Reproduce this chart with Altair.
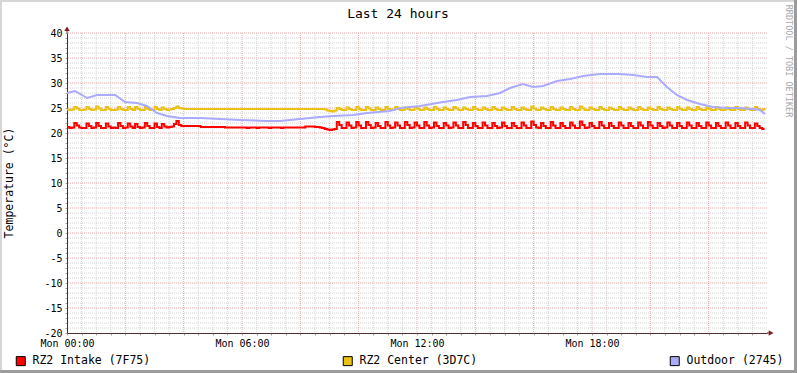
import altair as alt
import pandas as pd
import numpy as np

# ---------------- data ----------------
STEP_MIN = 5  # sampling interval of the two rack sensors, minutes

intake = [
    21.2, 21.0, 21.1, 22.0, 21.5, 21.1, 21.0, 21.0, 21.9, 21.4, 21.0, 21.1,
    22.0, 21.4, 21.0, 21.0, 21.9, 21.3, 21.0, 21.1, 21.0, 22.0, 21.4, 21.0,
    21.1, 21.9, 21.3, 21.0, 21.8, 21.2, 21.0, 21.1, 22.0, 21.4, 21.0, 21.0,
    21.9, 21.2, 21.0, 21.8, 21.3, 21.1, 21.2, 21.3, 21.8, 22.4, 21.6, 21.4,
    21.4, 21.4, 21.4, 21.4, 21.4, 21.4, 21.4, 21.2, 21.2, 21.2, 21.2, 21.2,
    21.2, 21.2, 21.2, 21.2, 21.2, 21.1, 21.1, 21.1, 21.1, 21.1, 21.1, 21.1,
    21.1, 21.1, 21.0, 21.1, 21.1, 21.1, 21.0, 21.1, 21.1, 21.1, 21.1, 21.0,
    21.1, 21.1, 21.1, 21.1, 21.0, 21.1, 21.1, 21.1, 21.1, 21.1, 21.1, 21.1,
    21.1, 21.1, 21.3, 21.3, 21.3, 21.3, 21.2, 21.2, 21.1, 21.0, 20.8, 20.7,
    20.6, 20.7, 20.8, 22.2, 21.6, 21.0, 21.0, 22.1, 21.5, 21.0, 21.1, 22.2,
    21.5, 21.0, 21.0, 22.2, 21.6, 21.0, 21.1, 22.0, 21.4, 21.0, 21.0, 22.2,
    21.5, 21.0, 21.1, 22.1, 21.5, 21.0, 21.0, 22.2, 21.6, 21.0, 21.1, 22.1,
    21.5, 21.0, 21.0, 22.2, 21.5, 21.0, 21.1, 22.1, 21.4, 21.0, 21.0, 22.0,
    21.5, 21.0, 21.1, 22.1, 21.5, 21.0, 21.0, 22.2, 21.6, 21.0, 21.0, 22.0,
    21.4, 21.0, 21.0, 22.1, 21.5, 21.0, 21.0, 22.0, 21.4, 21.0, 21.1, 22.1,
    21.4, 21.0, 21.0, 22.0, 21.4, 21.0, 21.0, 22.1, 21.5, 21.0, 21.0, 22.3,
    21.6, 21.1, 21.0, 22.0, 21.4, 21.0, 21.0, 22.2, 21.5, 21.0, 21.0, 22.0,
    21.4, 21.0, 21.0, 22.1, 21.5, 21.0, 21.0, 22.3, 21.6, 21.0, 21.1, 22.0,
    21.4, 21.0, 21.0, 22.2, 21.5, 21.0, 21.0, 22.0, 21.4, 21.0, 21.0, 22.1,
    21.5, 21.0, 21.0, 22.0, 21.4, 21.0, 21.0, 22.1, 21.5, 21.0, 21.0, 22.2,
    21.5, 21.0, 21.0, 22.0, 21.4, 21.0, 21.1, 22.1, 21.5, 21.0, 21.0, 22.0,
    21.4, 21.0, 21.0, 22.1, 21.5, 21.0, 21.0, 22.0, 21.4, 21.0, 21.0, 22.1,
    21.5, 21.0, 21.0, 22.0, 21.4, 21.0, 21.0, 22.1, 21.5, 21.0, 21.0, 22.0,
    21.4, 21.0, 21.0, 22.1, 21.5, 21.0, 21.0, 21.9, 21.4, 21.0, 20.8, 20.8,
]

center = [
    24.7, 24.6, 24.7, 25.2, 24.9, 24.6, 24.6, 24.7, 25.2, 24.8, 24.6, 24.7,
    25.3, 24.9, 24.6, 24.6, 25.2, 24.8, 24.6, 24.6, 24.7, 25.2, 24.8, 24.6,
    24.6, 25.2, 24.8, 24.6, 25.2, 24.8, 24.6, 24.6, 25.2, 24.8, 24.6, 24.6,
    25.2, 24.8, 24.6, 25.1, 24.8, 24.6, 24.7, 24.8, 25.0, 25.3, 25.0, 24.9,
    24.8, 24.8, 24.8, 24.8, 24.8, 24.8, 24.8, 24.8, 24.8, 24.8, 24.8, 24.8,
    24.8, 24.8, 24.8, 24.8, 24.8, 24.8, 24.8, 24.8, 24.8, 24.8, 24.8, 24.8,
    24.8, 24.8, 24.8, 24.8, 24.8, 24.8, 24.8, 24.8, 24.8, 24.8, 24.8, 24.8,
    24.8, 24.8, 24.8, 24.8, 24.8, 24.8, 24.8, 24.8, 24.8, 24.8, 24.8, 24.8,
    24.8, 24.8, 24.8, 24.8, 24.8, 24.8, 24.8, 24.8, 24.8, 24.8, 24.7, 24.5,
    24.4, 24.3, 24.5, 25.0, 24.8, 24.6, 24.6, 25.1, 24.8, 24.6, 24.6, 25.2,
    24.8, 24.6, 24.6, 25.2, 24.9, 24.6, 24.6, 25.1, 24.8, 24.6, 24.6, 25.2,
    24.8, 24.6, 24.7, 25.2, 24.8, 24.6, 24.6, 25.1, 24.8, 24.6, 24.6, 25.2,
    24.9, 24.6, 24.6, 25.1, 24.8, 24.6, 24.6, 25.2, 24.8, 24.6, 24.6, 25.1,
    24.8, 24.6, 24.6, 25.2, 24.9, 24.6, 24.6, 25.1, 24.8, 24.6, 24.6, 25.2,
    24.8, 24.6, 24.6, 25.1, 24.8, 24.6, 24.6, 25.2, 24.8, 24.6, 24.6, 25.1,
    24.8, 24.6, 24.6, 25.2, 24.8, 24.6, 24.6, 25.1, 24.8, 24.6, 24.6, 25.3,
    24.9, 24.6, 24.6, 25.1, 24.8, 24.6, 24.6, 25.2, 24.8, 24.6, 24.6, 25.1,
    24.8, 24.6, 24.6, 25.2, 24.8, 24.6, 24.6, 25.3, 24.9, 24.6, 24.6, 25.1,
    24.8, 24.6, 24.6, 25.2, 24.8, 24.6, 24.6, 25.1, 24.8, 24.6, 24.6, 25.2,
    24.8, 24.6, 24.6, 25.1, 24.8, 24.6, 24.6, 25.2, 24.8, 24.6, 24.6, 25.1,
    24.8, 24.6, 24.6, 25.2, 24.8, 24.6, 24.6, 25.1, 24.8, 24.6, 24.6, 25.2,
    24.8, 24.6, 24.6, 25.1, 24.8, 24.6, 24.6, 25.2, 24.8, 24.6, 24.6, 25.1,
    24.8, 24.6, 24.6, 25.2, 24.8, 24.6, 24.6, 25.1, 24.8, 24.6, 24.6, 25.2,
    24.8, 24.6, 24.6, 25.1, 24.8, 24.6, 24.6, 25.2, 24.8, 24.6, 24.7, 25.0,
]

outdoor_hours = [
    0.00, 0.27, 0.69, 1.03, 1.65, 1.99, 2.40, 2.74, 3.09, 3.43, 3.87, 4.56,
    5.25, 5.93, 6.86, 7.30, 7.99, 8.67, 9.12, 9.81, 10.29, 11.07, 11.42, 12.10,
    12.89, 13.37, 13.82, 14.40, 14.85, 15.19, 15.63, 15.98, 16.32, 16.80, 17.25,
    17.69, 18.27, 18.96, 19.41, 19.89, 20.23, 20.57, 20.91, 21.26, 21.70, 22.15,
    22.63, 23.07, 23.52, 23.76, 23.93,
]
outdoor = [
    28.0, 28.4, 27.0, 27.6, 27.6, 26.2, 26.0, 25.4, 24.0, 23.4, 23.0, 23.0,
    22.8, 22.6, 22.4, 22.4, 22.8, 23.2, 23.4, 23.6, 24.0, 24.4, 25.0, 25.4,
    26.2, 26.6, 27.2, 27.4, 28.0, 29.0, 29.8, 29.2, 29.4, 30.4, 30.8,
    31.4, 31.8, 31.8, 31.6, 31.2, 31.2, 29.2, 27.6, 26.6, 25.8, 25.2,
    25.0, 25.0, 24.8, 24.6, 23.8,
]

series_names = ["RZ2 Intake (7F75)", "RZ2 Center (3D7C)", "Outdoor (2745)"]
series_colors = ["#FF0000", "#EAC117", "#AAAAFF"]
series_interp = ["step-after", "step-after", "linear"]

x_tick_hours = [0, 6, 12, 18]
x_tick_labels = ["Mon 00:00", "Mon 06:00", "Mon 12:00", "Mon 18:00"]

title_text = "Last 24 hours"
y_title_text = "Temperature (°C)"
watermark_text = "RRDTOOL / TOBI OETIKER"

# ---------------- tables ----------------
hours = [i * STEP_MIN / 60.0 for i in range(len(intake))]
df = pd.concat([
    pd.DataFrame({"h": hours, "temp": intake, "series": series_names[0]}),
    pd.DataFrame({"h": hours, "temp": center, "series": series_names[1]}),
    pd.DataFrame({"h": outdoor_hours, "temp": outdoor, "series": series_names[2]}),
], ignore_index=True)

minor_x = [float(v) for v in np.arange(0.5, 24.0, 0.5) if v % 2 != 0]
major_x = list(range(2, 24, 2))
minor_y = [v for v in range(-19, 41) if v % 5 != 0]
major_y = list(range(-15, 41, 5))

FONT = "DejaVu Sans Mono"
W, H = 700, 300
PAD_L, PAD_T = 67, 33
AXIS_COLOR = "#4a3030"

xs = alt.Scale(domain=[0, 24], nice=False, zero=False)
ys = alt.Scale(domain=[-20, 40], nice=False, zero=False)
color_scale = alt.Scale(domain=series_names, range=series_colors)

label_expr = "".join(
    f"datum.value == {h} ? '{l}' : " for h, l in zip(x_tick_hours, x_tick_labels)
) + "''"

x_axis = alt.Axis(
    values=[v / 2 for v in range(0, 48)], labelExpr=label_expr,
    labelFont=FONT, labelFontSize=10, labelColor="black",
    labelFlush=False, labelOverlap=False, labelPadding=3,
    tickSize=2, tickColor="#b0a0a0", grid=False,
    domainColor=AXIS_COLOR, domainWidth=1, title=None,
)
y_axis = alt.Axis(
    values=list(range(-20, 41)),
    labelExpr="datum.value % 5 == 0 ? datum.value : ''",
    labelFont=FONT, labelFontSize=10, labelColor="black",
    labelOverlap=False, labelPadding=3, labelFlush=False,
    tickSize=2, tickColor="#b0a0a0", grid=False,
    domainColor=AXIS_COLOR, domainWidth=1, title=None,
)

def X(field):
    return alt.X(field, scale=xs, axis=x_axis, title=None)

def Y(field):
    return alt.Y(field, scale=ys, axis=y_axis, title=None)

# ---------------- grid ----------------
grid_minor_x = alt.Chart(pd.DataFrame({"g": minor_x})).mark_rule(
    color="#d2d2d2", strokeDash=[1, 1], strokeWidth=1
).encode(x=X("g:Q"))
grid_major_x = alt.Chart(pd.DataFrame({"g": major_x})).mark_rule(
    color="#e6a8a8", strokeDash=[1, 1], strokeWidth=1
).encode(x=X("g:Q"))
grid_minor_y = alt.Chart(pd.DataFrame({"g": minor_y})).mark_rule(
    color="#d2d2d2", strokeDash=[1, 1], strokeWidth=1
).encode(y=Y("g:Q"))
grid_major_y = alt.Chart(pd.DataFrame({"g": major_y})).mark_rule(
    color="#e6a8a8", strokeDash=[1, 1], strokeWidth=1
).encode(y=Y("g:Q"))

# ---------------- lines (one layer per series, drawn in RRD order) ----------------
lines = [
    alt.Chart(df).transform_filter(alt.datum.series == s)
    .mark_line(strokeWidth=2, interpolate=ip, color=c)
    .encode(x=X("h:Q"), y=Y("temp:Q"))
    for s, c, ip in zip(series_names, series_colors, series_interp)
]

# ---------------- legend (invisible squares drive the real legend) ----------------
legend_layer = alt.Chart(pd.DataFrame({"series": series_names})).mark_point(
    shape="square", filled=True, opacity=0, size=1
).encode(
    fill=alt.Fill(
        "series:N", scale=color_scale,
        legend=alt.Legend(
            title=None, orient="none", legendX=15 - PAD_L, legendY=322,
            direction="horizontal", symbolType="square", symbolSize=81,
            symbolStrokeColor="black", symbolStrokeWidth=1, symbolOpacity=1,
            labelFont=FONT, labelFontSize=11.5, labelColor="black",
            labelOffset=6, columnPadding=190, gridAlign="all",
            padding=0, labelLimit=300,
        ),
    )
)

# ---------------- axis extensions / arrows ----------------
arrow_color = "#8b1a1a"
x_ext = alt.Chart(pd.DataFrame({"a": [24.0], "b": [24.12], "y": [-20]})).mark_rule(
    color=AXIS_COLOR, strokeWidth=1
).encode(x=X("a:Q"), x2="b:Q", y=Y("y:Q"))
y_ext = alt.Chart(pd.DataFrame({"x": [0], "a": [40.0], "b": [40.6]})).mark_rule(
    color=AXIS_COLOR, strokeWidth=1
).encode(x=X("x:Q"), y=Y("a:Q"), y2="b:Q")
x_arrow = alt.Chart(pd.DataFrame({"x": [24.14], "y": [-20]})).mark_point(
    shape="triangle-right", filled=True, color=arrow_color, size=30, opacity=1
).encode(x=X("x:Q"), y=Y("y:Q"))
y_arrow = alt.Chart(pd.DataFrame({"x": [0], "y": [40.85]})).mark_point(
    shape="triangle-up", filled=True, color=arrow_color, size=30, opacity=1
).encode(x=X("x:Q"), y=Y("y:Q"))

# ---------------- texts ----------------
title = alt.Chart(pd.DataFrame({"t": [title_text]})).mark_text(
    font=FONT, fontSize=13, color="black", align="center", baseline="alphabetic"
).encode(text="t:N", x=alt.value(398 - PAD_L), y=alt.value(18 - PAD_T))
ytitle = alt.Chart(pd.DataFrame({"t": [y_title_text]})).mark_text(
    font=FONT, fontSize=11.5, color="black", align="center", baseline="middle", angle=270
).encode(text="t:N", x=alt.value(10 - PAD_L), y=alt.value(150))
watermark = alt.Chart(pd.DataFrame({"t": [watermark_text]})).mark_text(
    font=FONT, fontSize=8.5, color="#a8a8a8", align="center", baseline="middle", angle=90
).encode(text="t:N", x=alt.value(788.5 - PAD_L), y=alt.value(61 - PAD_T))

# ---------------- frame (3D border of the RRD image) ----------------
fr = pd.DataFrame({"k": [0]})
def frame(x1, x2, y1, y2, c):
    return alt.Chart(fr).mark_rect(color=c).encode(
        x=alt.value(x1), x2=alt.value(x2), y=alt.value(y1), y2=alt.value(y2)
    )
frames = [
    frame(-PAD_L, 797 - PAD_L, -PAD_T, -PAD_T + 2, "#d6d6d6"),
    frame(-PAD_L, -PAD_L + 2, -PAD_T, 373 - PAD_T, "#d6d6d6"),
    frame(-PAD_L, 797 - PAD_L, 370 - PAD_T, 373 - PAD_T, "#9c9c9c"),
    frame(794 - PAD_L, 797 - PAD_L, -PAD_T, 373 - PAD_T, "#9c9c9c"),
]

chart = alt.layer(
    grid_minor_x, grid_minor_y, grid_major_x, grid_major_y,
    *lines, legend_layer, x_ext, y_ext, x_arrow, y_arrow,
    title, ytitle, watermark, *frames,
).properties(
    width=W, height=H,
    autosize=alt.AutoSizeParams(type="none"),
    padding={"left": PAD_L, "top": PAD_T, "right": 797 - PAD_L - W, "bottom": 373 - PAD_T - H},
    background="white",
).configure_view(stroke=None)

chart.save("out.html", embed_options={"renderer": "svg", "actions": False})
